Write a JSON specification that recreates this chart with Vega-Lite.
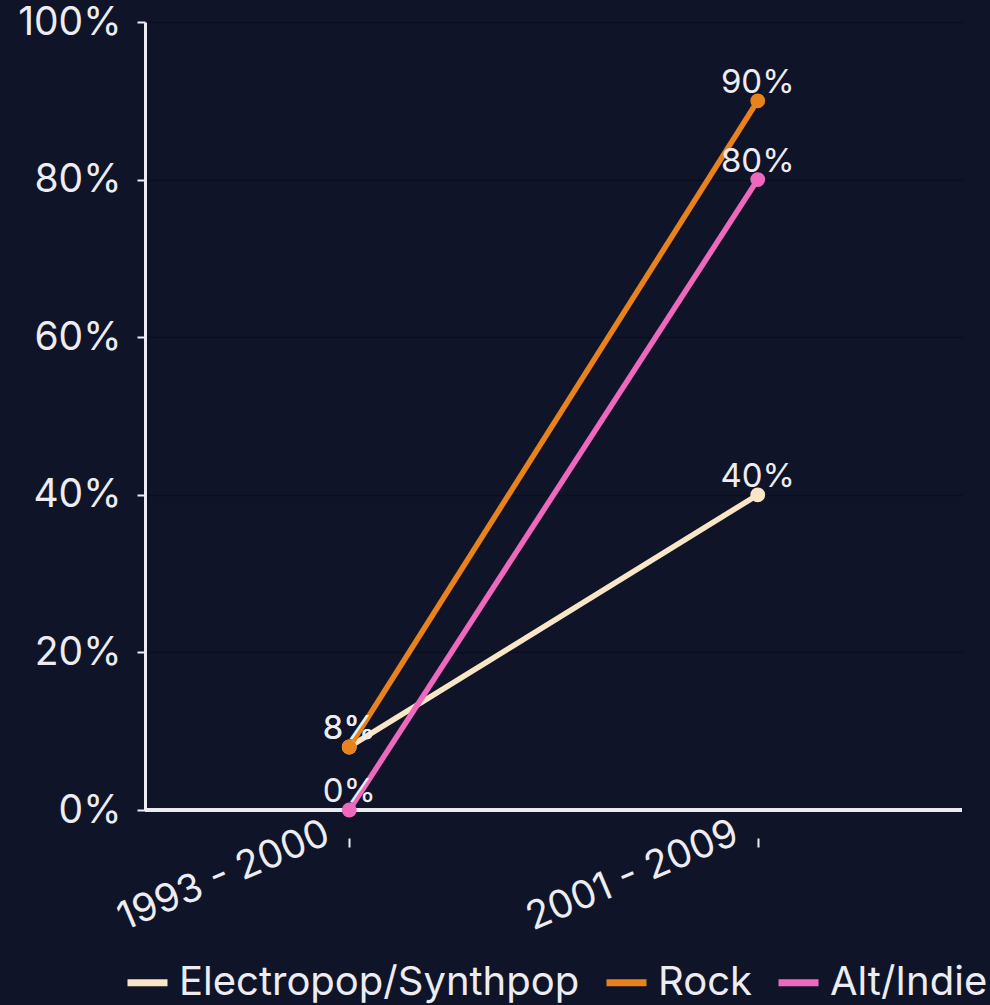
{
  "$schema": "https://vega.github.io/schema/vega-lite/v6.json",
  "width": 817,
  "height": 788,
  "autosize": {"type": "none"},
  "padding": {"left": 145, "top": 22, "right": 28, "bottom": 195},
  "background": "#0f1428",
  "config": {
    "font": "Inter",
    "view": {"stroke": null},
    "axis": {"labelFont": "Inter", "labelColor": "#ececf2", "titleColor": "#ececf2"},
    "legend": {"labelFont": "Inter"}
  },
  "data": {
    "values": [
      {"period": "1993 - 2000", "genre": "Electropop/Synthpop", "value": 0.08},
      {"period": "2001 - 2009", "genre": "Electropop/Synthpop", "value": 0.40},
      {"period": "1993 - 2000", "genre": "Rock", "value": 0.08},
      {"period": "2001 - 2009", "genre": "Rock", "value": 0.90},
      {"period": "1993 - 2000", "genre": "Alt/Indie", "value": 0.0},
      {"period": "2001 - 2009", "genre": "Alt/Indie", "value": 0.80}
    ]
  },
  "encoding": {
    "x": {
      "field": "period",
      "type": "nominal",
      "sort": null,
      "scale": {"type": "point", "padding": 0.5},
      "axis": {
        "title": null,
        "domain": false,
        "offset": 28,
        "tickSize": 9,
        "tickWidth": 2,
        "tickColor": "#ececf2",
        "labelAngle": -23,
        "labelAlign": "right",
        "labelBaseline": "middle",
        "labelFontSize": 39,
        "labelPadding": -16,
        "labelOffset": -22,
        "labelLimit": 0,
        "grid": false
      }
    },
    "y": {
      "field": "value",
      "type": "quantitative",
      "scale": {"domain": [0, 1]},
      "axis": {
        "title": null,
        "format": ".0%",
        "values": [0, 0.2, 0.4, 0.6, 0.8, 1],
        "labelFontSize": 39,
        "labelPadding": 16,
        "tickSize": 8,
        "tickWidth": 2,
        "tickColor": "#ececf2",
        "domainColor": "#ececf2",
        "domainWidth": 3,
        "gridColor": "#060914",
        "gridOpacity": 0.5,
        "gridWidth": 1.5
      }
    },
    "color": {
      "field": "genre",
      "type": "nominal",
      "sort": ["Electropop/Synthpop", "Rock", "Alt/Indie"],
      "scale": {
        "domain": ["Electropop/Synthpop", "Rock", "Alt/Indie"],
        "range": ["#f9e6c6", "#e8821c", "#ee68be"]
      },
      "legend": {
        "title": null,
        "orient": "none",
        "legendX": -21,
        "legendY": 937,
        "direction": "horizontal",
        "symbolType": "stroke",
        "symbolSize": 1600,
        "symbolStrokeWidth": 7,
        "labelFontSize": 40,
        "labelLimit": 0,
        "labelColor": "#ececf2",
        "labelOffset": 8,
        "columnPadding": 12
      }
    }
  },
  "layer": [
    {
      "mark": {"type": "rule", "color": "#ececf2", "strokeWidth": 3},
      "encoding": {"y": {"datum": 0}, "x": null, "color": null}
    },
    {
      "mark": {"type": "line", "strokeWidth": 5.5},
      "encoding": {"order": {"field": "period"}}
    },
    {
      "mark": {"type": "circle", "size": 220, "opacity": 1}
    },
    {
      "mark": {"type": "text", "dy": -18, "fontSize": 33, "color": "#ececf2"},
      "encoding": {
        "text": {"field": "value", "type": "quantitative", "format": ".0%"},
        "color": null
      }
    }
  ]
}
